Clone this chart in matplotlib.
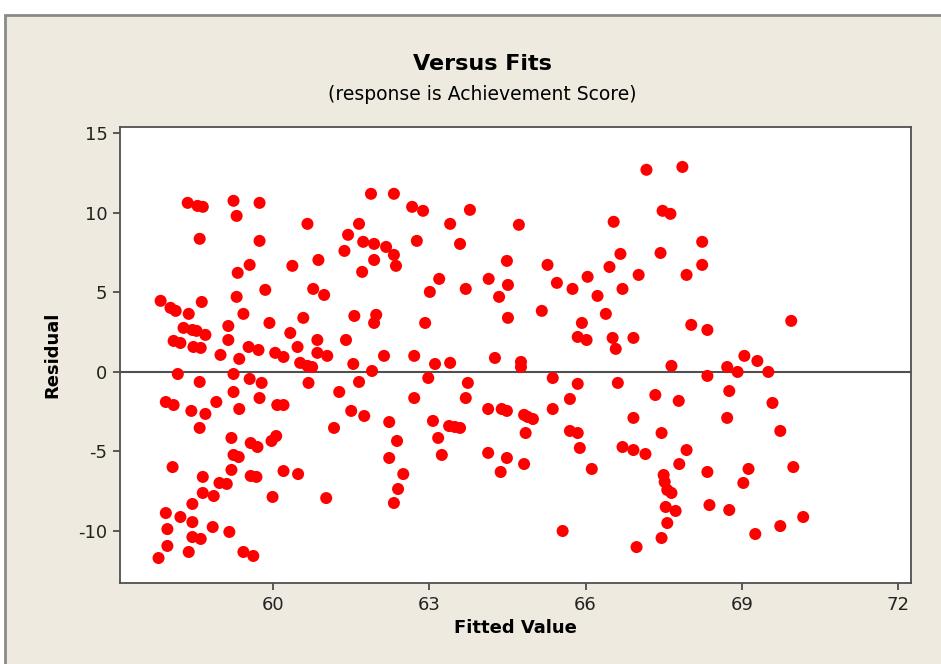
import matplotlib
matplotlib.use('Agg')
from matplotlib import pyplot as plt
from matplotlib.patches import Rectangle

# fitted values and residuals
fitted = [
    58.36, 58.55, 58.65, 59.24, 59.74, 59.30, 60.66, 58.59, 59.74, 59.55,
    59.32, 60.37, 60.87, 59.85, 60.77, 57.84, 58.03, 58.13, 58.63, 59.30,
    58.38, 59.43, 59.93, 60.58, 58.28, 58.45, 58.53, 58.70, 59.14, 60.33,
    60.85, 58.09, 58.22, 59.14, 58.47, 58.61, 59.53, 59.72, 60.04, 60.20,
    60.47, 58.99, 59.35, 60.85, 60.52, 60.66, 60.75, 58.17, 58.59, 59.24,
    59.55, 59.78, 60.68, 59.24, 57.94, 58.09, 58.43, 58.70, 58.91, 59.35,
    59.74, 60.08, 60.20, 58.59, 59.20, 59.57, 59.70, 59.97, 60.06, 59.24,
    59.34, 58.07, 59.20, 58.65, 59.57, 59.68, 60.20, 60.48, 58.97, 59.11,
    58.65, 58.86, 59.99, 58.45, 57.94, 58.22, 58.45, 57.97, 58.84, 59.16,
    58.45, 58.61, 57.97, 58.38, 57.80, 59.43, 59.62,
    61.88, 62.32, 62.67, 62.88, 63.78, 61.65, 63.40, 61.44, 61.73, 61.94,
    62.17, 62.76, 63.59, 61.37, 62.32, 61.94, 62.36, 61.71, 63.19, 64.14,
    64.49, 60.98, 63.01, 63.70, 64.34, 64.51, 61.56, 61.98, 61.94, 62.92,
    64.51, 61.40, 61.04, 62.13, 62.71, 64.26, 61.54, 61.90, 63.11, 63.40,
    62.98, 63.74, 61.65, 61.27, 62.71, 63.70, 61.50, 61.75, 64.13, 64.39,
    64.49, 61.17, 62.23, 63.07, 63.38, 63.49, 63.59, 63.17, 62.38, 62.23,
    63.24, 64.13, 64.49, 64.37, 62.50, 62.40, 62.32, 61.02,
    67.17, 67.86, 67.48, 67.63, 66.54, 64.72, 68.24, 65.27, 66.67, 66.46,
    67.44, 67.94, 68.24, 66.04, 67.02, 65.45, 65.75, 66.71, 66.23, 65.16,
    66.39, 65.93, 68.03, 65.85, 66.02, 66.52, 66.92, 66.58, 64.76, 64.76,
    67.65, 65.37, 65.85, 66.62, 65.70, 67.34, 67.79, 65.37, 64.82, 64.89,
    64.99, 66.92, 64.85, 65.70, 65.85, 67.46, 65.89, 66.71, 66.92, 67.15,
    67.94, 64.82, 66.12, 67.80, 67.50, 67.52, 67.57, 67.65, 67.54, 67.73,
    67.57, 67.46, 66.98, 65.56,
    68.34, 69.95, 69.05, 69.30, 68.72, 68.92, 69.51, 68.34, 68.76, 69.59,
    68.72, 69.74, 68.34, 69.13, 69.99, 69.03, 68.38, 68.76, 70.18, 69.74,
    69.26,
]
residual = [
    10.63, 10.44, 10.38, 10.76, 10.63, 9.81, 9.31, 8.37, 8.24, 6.73,
    6.23, 6.67, 7.04, 5.16, 5.22, 4.47, 4.03, 3.84, 4.40, 4.72,
    3.65, 3.65, 3.08, 3.40, 2.77, 2.64, 2.58, 2.33, 2.89, 2.45,
    2.01, 1.95, 1.82, 2.01, 1.57, 1.51, 1.57, 1.38, 1.20, 0.94,
    1.57, 1.07, 0.82, 1.20, 0.57, 0.38, 0.31, -0.13, -0.63, -0.13,
    -0.44, -0.69, -0.69, -1.26, -1.89, -2.08, -2.45, -2.64, -1.89, -2.33,
    -1.64, -2.08, -2.08, -3.52, -4.15, -4.47, -4.72, -4.34, -4.03, -5.22,
    -5.35, -5.98, -6.16, -6.60, -6.54, -6.60, -6.23, -6.42, -6.98, -7.04,
    -7.61, -7.80, -7.86, -8.30, -8.87, -9.12, -9.44, -9.88, -9.75, -10.06,
    -10.38, -10.50, -10.94, -11.32, -11.70, -11.32, -11.57,
    11.20, 11.20, 10.38, 10.13, 10.19, 9.31, 9.31, 8.62, 8.18, 8.05,
    7.86, 8.24, 8.05, 7.61, 7.36, 7.04, 6.67, 6.29, 5.85, 5.85,
    6.98, 4.84, 5.03, 5.22, 4.72, 5.47, 3.52, 3.59, 3.08, 3.08,
    3.40, 2.01, 1.01, 1.01, 1.01, 0.88, 0.50, 0.06, 0.50, 0.57,
    -0.38, -0.69, -0.63, -1.26, -1.64, -1.64, -2.45, -2.77, -2.33, -2.33,
    -2.45, -3.52, -3.15, -3.08, -3.40, -3.46, -3.52, -4.15, -4.34, -5.41,
    -5.22, -5.09, -5.41, -6.29, -6.42, -7.36, -8.24, -7.93,
    12.71, 12.89, 10.13, 9.94, 9.44, 9.25, 8.18, 6.73, 7.42, 6.60,
    7.48, 6.10, 6.73, 5.98, 6.10, 5.60, 5.22, 5.22, 4.78, 3.84,
    3.65, 3.08, 2.96, 2.20, 2.01, 2.14, 2.14, 1.45, 0.63, 0.31,
    0.38, -0.38, -0.75, -0.69, -1.70, -1.45, -1.82, -2.33, -2.70, -2.83,
    -2.96, -2.89, -3.84, -3.71, -3.84, -3.84, -4.78, -4.72, -4.91, -5.16,
    -4.91, -5.79, -6.10, -5.79, -6.48, -6.92, -7.42, -7.61, -8.49, -8.74,
    -9.50, -10.44, -11.01, -10.00,
    2.64, 3.21, 1.01, 0.69, 0.31, 0.00, 0.00, -0.25, -1.20, -1.95,
    -2.89, -3.71, -6.29, -6.10, -5.98, -6.98, -8.37, -8.68, -9.12, -9.69,
    -10.19,
]
x_ticks = [60, 63, 66, 69, 72]
y_ticks = [-10, -5, 0, 5, 10, 15]

plt.rcParams['font.family'] = ['DejaVu Sans']
plt.rcParams['axes.unicode_minus'] = False

fig = plt.figure(figsize=(9.41, 6.64), dpi=100)
fig.patch.set_facecolor('white')

# beige minitab panel with grey border, behind the axes
fig.patches.append(Rectangle((5 / 941, -0.05), 1.2, 1 - 15 / 664 + 0.05,
                             transform=fig.transFigure, facecolor='#EEEAE0',
                             edgecolor='#8A8A8A', lw=2, zorder=-5))

ax = fig.add_axes([120 / 941, 1 - 583 / 664, 791 / 941, 456 / 664])
ax.set_zorder(2)
ax.set_facecolor('white')
ax.scatter(fitted, residual, s=75, color='#FF0000', edgecolors='none', zorder=3)
ax.axhline(0, color='#505050', lw=1.5, zorder=2)

ax.set_xlim(57.06, 72.25)
ax.set_ylim(-13.27, 15.4)
ax.set_xticks(x_ticks)
ax.set_yticks(y_ticks)
for sp in ax.spines.values():
    sp.set_color('#505050')
    sp.set_linewidth(1.3)
ax.tick_params(direction='out', length=5, width=1.2, color='#404040',
               labelsize=13, labelcolor='#222222', pad=4)

ax.set_xlabel('Fitted Value', fontsize=13, fontweight='bold', labelpad=4)
ax.set_ylabel('Residual', fontsize=13, fontweight='bold', labelpad=12)

fig.text(482 / 941, 1 - 64 / 664, 'Versus Fits', ha='center', va='center',
         fontsize=16, fontweight='bold')
fig.text(482 / 941, 1 - 95 / 664, '(response is Achievement Score)',
         ha='center', va='center', fontsize=13.5)

fig.savefig('out.png', dpi=100)
